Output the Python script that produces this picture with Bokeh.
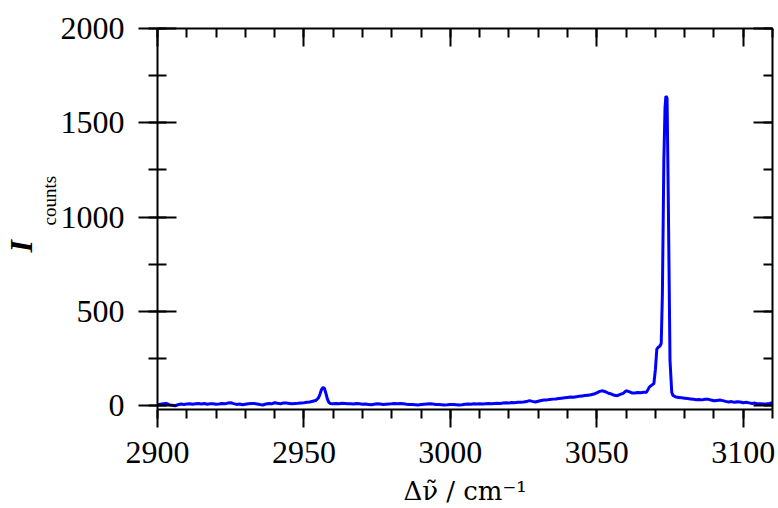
from bokeh.plotting import figure
from bokeh.models import (LinearAxis, SingleIntervalTicker, Range1d, Title,
                          CustomLabelingPolicy)
from bokeh.embed import file_html
from bokeh.resources import INLINE

# ---- data ----
wavenumber = [
    2900, 2901, 2902, 2903, 2904, 2905, 2906, 2907, 2908, 2909,
    2910, 2911, 2912, 2913, 2914, 2915, 2916, 2917, 2918, 2919,
    2920, 2921, 2922, 2923, 2924, 2925, 2926, 2927, 2928, 2929,
    2930, 2931, 2932, 2933, 2934, 2935, 2936, 2937, 2938, 2939,
    2940, 2941, 2942, 2943, 2944, 2945, 2946, 2947, 2948, 2949,
    2950, 2951, 2952, 2953, 2954, 2954.5, 2955, 2955.5, 2956, 2956.5,
    2957, 2957.5, 2958, 2958.5, 2959,
    2960, 2961, 2962, 2963, 2964, 2965, 2966, 2967, 2968, 2969,
    2970, 2971, 2972, 2973, 2974, 2975, 2976, 2977, 2978, 2979,
    2980, 2981, 2982, 2983, 2984, 2985, 2986, 2987, 2988, 2989,
    2990, 2991, 2992, 2993, 2994, 2995, 2996, 2997, 2998, 2999,
    3000, 3001, 3002, 3003, 3004, 3005, 3006, 3007, 3008, 3009,
    3010, 3011, 3012, 3013, 3014, 3015, 3016, 3017, 3018, 3019,
    3020, 3021, 3022, 3023, 3024, 3025, 3026, 3027, 3028, 3029,
    3030, 3031, 3032, 3033, 3034, 3035, 3036, 3037, 3038, 3039,
    3040, 3041, 3042, 3043, 3044, 3045, 3046, 3047, 3048, 3049,
    3050, 3051, 3052, 3053, 3054, 3055, 3056, 3057, 3058, 3059,
    3060, 3061, 3062, 3063, 3064, 3065, 3066, 3067, 3068, 3069,
    3069.5, 3070, 3070.5, 3071, 3071.5, 3072, 3072.4, 3072.9, 3073.3, 3073.6,
    3074, 3074.4, 3075, 3075.6, 3076, 3077, 3078, 3079,
    3080, 3081, 3082, 3083, 3084, 3085, 3086, 3087, 3088, 3089,
    3090, 3091, 3092, 3093, 3094, 3095, 3096, 3097, 3098, 3099,
    3100, 3101, 3102, 3103, 3104, 3105, 3106, 3107, 3108, 3109, 3110,
]
counts = [
    4, 8, 10, 12, 6, 2, 0, 5, 9, 7,
    9, 11, 8, 10, 12, 9, 12, 8, 10, 11,
    8, 9, 12, 10, 14, 16, 11, 7, 9, 5,
    8, 10, 12, 12, 9, 6, 4, 9, 12, 10,
    16, 13, 11, 14, 14, 12, 10, 12, 13, 15,
    16, 18, 20, 24, 28, 34, 42, 62, 86, 97,
    92, 66, 36, 18, 12,
    10, 12, 11, 13, 12, 10, 11, 9, 12, 10,
    8, 9, 7, 5, 8, 10, 9, 7, 8, 9,
    10, 12, 11, 12, 10, 8, 7, 6, 5, 4,
    6, 8, 9, 10, 9, 7, 6, 5, 4, 5,
    7, 6, 5, 4, 5, 8, 9, 8, 10, 9,
    10, 9, 11, 12, 10, 12, 13, 12, 14, 16,
    15, 17, 16, 18, 19, 20, 22, 27, 23, 20,
    24, 28, 30, 31, 33, 35, 36, 38, 40, 42,
    44, 46, 45, 48, 50, 52, 54, 56, 58, 62,
    68, 76, 79, 74, 66, 62, 55, 53, 60, 66,
    79, 75, 68, 67, 70, 69, 71, 72, 100, 112,
    118, 190, 300, 310, 315, 330, 590, 1300, 1580, 1642,
    1630, 1120, 240, 70, 55, 46, 44, 42,
    40, 38, 36, 34, 32, 33, 31, 34, 35, 30,
    26, 28, 30, 27, 23, 20, 22, 18, 21, 20,
    16, 18, 15, 12, 14, 10, 11, 9, 10, 12, 16,
]

x_start, x_end = 2900, 3110
y_start, y_end = -20, 2000
x_title = "\u0394\u03bd\u0303 / cm\u207b\u00b9"
y_title_main = "I"
y_title_sub = "counts"

FONT = "Liberation Serif"
TICK_SIZE = "32px"

p = figure(width=778, height=508, output_backend="svg", toolbar_location=None,
           x_range=Range1d(x_start, x_end), y_range=Range1d(y_start, y_end),
           x_axis_location=None, y_axis_location=None,
           min_border_left=157, min_border_right=6, min_border_top=28,
           min_border_bottom=99)
p.outline_line_color = None
p.xgrid.visible = False
p.ygrid.visible = False
p.background_fill_color = "white"
p.border_fill_color = "white"

HIDE_LABELS = "for (const i of Array.from(indices)) { indices.unset(i) }\nreturn indices"


def style(ax, major_in, major_out, minor_in, minor_out, labels):
    ax.axis_line_width = 2
    ax.axis_line_color = "black"
    ax.major_tick_line_width = 2
    ax.minor_tick_line_width = 2
    ax.major_tick_line_color = "black"
    ax.minor_tick_line_color = "black"
    ax.major_tick_in = major_in
    ax.major_tick_out = major_out
    ax.minor_tick_in = minor_in
    ax.minor_tick_out = minor_out
    ax.major_label_text_font = FONT
    ax.major_label_text_color = "black"
    if labels:
        ax.major_label_text_font_size = TICK_SIZE
    else:
        ax.major_label_text_font_size = "1px"
        ax.major_label_policy = CustomLabelingPolicy(code=HIDE_LABELS)
        ax.major_label_standoff = 0


def xticker():
    return SingleIntervalTicker(interval=50, num_minor_ticks=5)


def yticker():
    return SingleIntervalTicker(interval=500, num_minor_ticks=2)


bottom = LinearAxis(ticker=xticker())
style(bottom, 0, 18, 0, 9, True)
bottom.major_label_standoff = 14
bottom.axis_label = x_title
bottom.axis_label_text_font = "DejaVu Serif"
bottom.axis_label_text_font_size = "26px"
bottom.axis_label_text_font_style = "normal"
bottom.axis_label_text_color = "black"
bottom.axis_label_standoff = 10
p.add_layout(bottom, "below")

top = LinearAxis(ticker=xticker())
style(top, 18, 0, 9, 0, False)
p.add_layout(top, "above")

left = LinearAxis(ticker=yticker())
style(left, 19, 19, 9, 9, True)
left.major_label_standoff = 14
p.add_layout(left, "left")

right = LinearAxis(ticker=yticker())
style(right, 19, 0, 9, 0, False)
p.add_layout(right, "right")

# y title: subscript part next to the axis, main symbol outside it
p.add_layout(Title(text=y_title_sub, text_font=FONT, text_font_size="19px",
                   text_font_style="normal", text_color="black",
                   align="left", offset=184, standoff=-4), "left")
p.add_layout(Title(text=y_title_main, text_font=FONT, text_font_size="32px",
                   text_font_style="bold italic", text_color="black",
                   align="left", offset=157, standoff=0), "left")

p.line(wavenumber, counts, line_color="#0000FF", line_width=3)

open("out.html", "w").write(file_html(p, INLINE))
